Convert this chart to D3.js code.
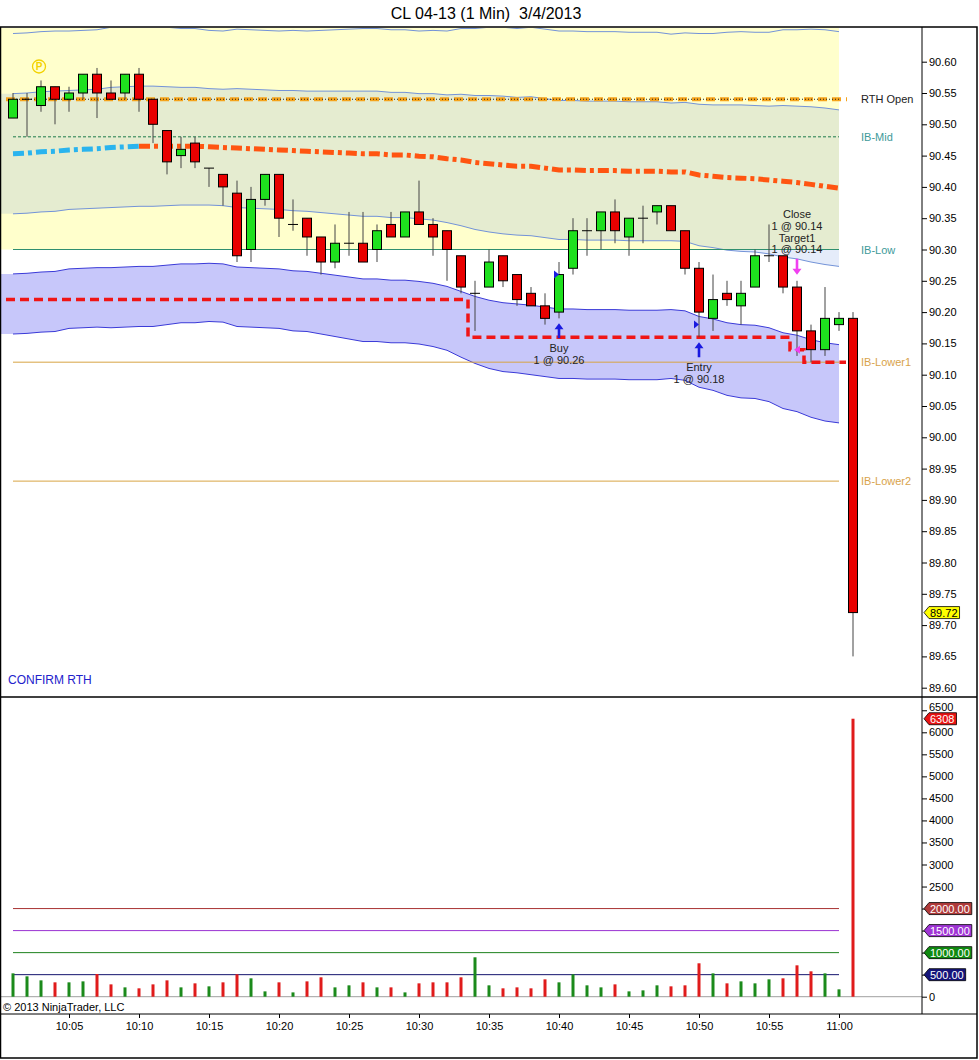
<!DOCTYPE html>
<html lang="en">
<head>
  <meta charset="UTF-8">
  <title>CL 04-13 (1 Min) 3/4/2013</title>
  <script src="https://cdnjs.cloudflare.com/ajax/libs/d3/7.8.5/d3.min.js"></script>
  <style>
    body { margin: 0; background: #fff; }
    svg { display: block; font-family: "Liberation Sans", Arial, sans-serif; }
    .axis text { font-size: 11px; fill: #000; font-family: "Liberation Sans", Arial, sans-serif; }
    .axis line { stroke: #000; }
    .axis path { display: none; }
  </style>
</head>
<body>
<svg id="chart" width="979" height="1060"></svg>
<script>
// ---- data ----
const times = ["10:01","10:02","10:03","10:04","10:05","10:06","10:07","10:08","10:09","10:10",
  "10:11","10:12","10:13","10:14","10:15","10:16","10:17","10:18","10:19","10:20",
  "10:21","10:22","10:23","10:24","10:25","10:26","10:27","10:28","10:29","10:30",
  "10:31","10:32","10:33","10:34","10:35","10:36","10:37","10:38","10:39","10:40",
  "10:41","10:42","10:43","10:44","10:45","10:46","10:47","10:48","10:49","10:50",
  "10:51","10:52","10:53","10:54","10:55","10:56","10:57","10:58","10:59","11:00","11:01"];

const open = [90.51,90.54,90.53,90.56,90.54,90.55,90.58,90.55,90.55,90.58,
  90.54,90.49,90.45,90.47,90.43,90.42,90.39,90.30,90.38,90.42,
  90.34,90.35,90.32,90.28,90.31,90.31,90.30,90.34,90.32,90.36,
  90.34,90.33,90.29,90.23,90.24,90.29,90.26,90.23,90.21,90.20,
  90.27,90.33,90.33,90.36,90.32,90.35,90.36,90.37,90.33,90.27,
  90.19,90.23,90.21,90.24,90.29,90.29,90.24,90.17,90.14,90.18,90.19];
const high = [90.55,90.55,90.57,90.56,90.56,90.58,90.59,90.57,90.58,90.59,
  90.54,90.49,90.48,90.48,90.43,90.42,90.41,90.40,90.42,90.42,
  90.38,90.35,90.32,90.34,90.36,90.36,90.34,90.36,90.36,90.41,
  90.35,90.33,90.29,90.25,90.30,90.29,90.26,90.24,90.23,90.28,
  90.35,90.35,90.36,90.38,90.35,90.37,90.37,90.37,90.33,90.28,
  90.26,90.25,90.25,90.30,90.34,90.29,90.25,90.18,90.24,90.20,90.20];
const low = [90.51,90.48,90.52,90.50,90.52,90.54,90.51,90.54,90.54,90.52,
  90.47,90.42,90.43,90.43,90.40,90.37,90.28,90.28,90.37,90.32,
  90.33,90.29,90.26,90.27,90.29,90.28,90.28,90.32,90.32,90.34,
  90.29,90.25,90.23,90.17,90.24,90.24,90.21,90.21,90.18,90.19,
  90.26,90.29,90.30,90.31,90.29,90.31,90.34,90.33,90.26,90.16,
  90.17,90.21,90.18,90.24,90.28,90.23,90.13,90.12,90.13,90.17,89.65];
const close = [90.54,90.54,90.56,90.54,90.55,90.58,90.55,90.54,90.58,90.54,
  90.50,90.44,90.46,90.44,90.43,90.40,90.29,90.38,90.42,90.35,
  90.34,90.32,90.28,90.31,90.31,90.28,90.33,90.32,90.36,90.34,
  90.32,90.30,90.24,90.23,90.28,90.25,90.22,90.21,90.19,90.26,
  90.33,90.33,90.36,90.33,90.35,90.35,90.37,90.33,90.27,90.20,
  90.22,90.22,90.23,90.29,90.29,90.24,90.17,90.14,90.19,90.19,89.72];
const volume = [530,462,371,326,326,348,515,280,212,190,
  280,371,212,303,235,326,508,417,121,326,
  98,348,440,212,258,326,212,212,98,303,
  326,326,440,894,258,190,212,190,394,326,
  508,258,212,280,121,144,258,235,258,758,
  530,303,348,303,394,417,712,576,530,167,6308];

// moving average (10:01 .. 11:00) and its band width
const maValues = [90.453,90.454,90.456,90.457,90.459,90.460,90.461,90.463,90.464,90.465,
  90.465,90.465,90.465,90.465,90.464,90.463,90.462,90.461,90.460,90.459,
  90.458,90.457,90.456,90.455,90.454,90.453,90.453,90.451,90.451,90.449,
  90.448,90.445,90.443,90.439,90.437,90.435,90.433,90.433,90.430,90.427,
  90.427,90.426,90.426,90.426,90.425,90.425,90.425,90.424,90.424,90.419,
  90.417,90.415,90.414,90.413,90.411,90.409,90.407,90.404,90.401,90.398];
const bandWidth = [0.096,0.096,0.096,0.096,0.095,0.095,0.095,0.096,0.096,0.096,
  0.096,0.095,0.094,0.094,0.093,0.093,0.095,0.095,0.095,0.095,
  0.096,0.096,0.097,0.098,0.099,0.100,0.100,0.100,0.100,0.100,
  0.101,0.102,0.105,0.107,0.109,0.110,0.110,0.111,0.111,0.111,
  0.111,0.111,0.111,0.111,0.111,0.111,0.111,0.110,0.111,0.113,
  0.114,0.116,0.117,0.117,0.118,0.121,0.122,0.124,0.125,0.125];
const bandMultiples = [2, 1, -1, -2, -3];

// trailing stop (10:01 .. 11:00)
const stopLevel = [90.22,90.22,90.22,90.22,90.22,90.22,90.22,90.22,90.22,90.22,
  90.22,90.22,90.22,90.22,90.22,90.22,90.22,90.22,90.22,90.22,
  90.22,90.22,90.22,90.22,90.22,90.22,90.22,90.22,90.22,90.22,
  90.22,90.22,90.22,90.16,90.16,90.16,90.16,90.16,90.16,90.16,
  90.16,90.16,90.16,90.16,90.16,90.16,90.16,90.16,90.16,90.16,
  90.16,90.16,90.16,90.16,90.16,90.16,90.14,90.12,90.12,90.12];

const levelNames = ["RTH Open", "IB-Mid", "IB-Low", "IB-Lower1", "IB-Lower2"];
const levelPrices = [90.54, 90.48, 90.30, 90.12, 89.93];
const ibHigh = 90.66;

const volumeLevels = [2000, 1500, 1000, 500];

const priceTicks = [89.60,89.65,89.70,89.75,89.80,89.85,89.90,89.95,90.00,90.05,
  90.10,90.15,90.20,90.25,90.30,90.35,90.40,90.45,90.50,90.55,90.60];
const volumeTicks = [0,500,1000,1500,2000,2500,3000,3500,4000,4500,5000,5500,6000,6500];
const timeTicks = ["10:05","10:10","10:15","10:20","10:25","10:30","10:35","10:40","10:45","10:50","10:55","11:00"];

const trades = [
  { time: "10:40", price: 90.26, kind: "buy",   lines: ["Buy", "1 @ 90.26"] },
  { time: "10:50", price: 90.18, kind: "buy",   lines: ["Entry", "1 @ 90.18"] },
  { time: "10:57", price: 90.14, kind: "sell",  lines: ["Close", "1 @ 90.14", "Target1", "1 @ 90.14"] }
];

// ---- scales ----
const parseTime = d3.timeParse("%H:%M");
const x = d3.scaleTime().domain([parseTime("10:05"), parseTime("11:00")]).range([69, 839]);
const y = d3.scaleLinear().domain([89.60, 90.60]).range([687.7, 61.7]);
const yv = d3.scaleLinear().domain([0, 6000]).range([996.7, 732.3]);

const svg = d3.select("#chart");
const axisX = 922, panelTop = 27, splitY = 697, timeY = 1014;

const bars = times.map((t, i) => ({
  px: x(parseTime(t)), o: open[i], h: high[i], l: low[i], c: close[i], v: volume[i]
}));
const barAt = t => bars[times.indexOf(t)];

svg.append("rect").attr("width", 979).attr("height", 1060).attr("fill", "#fff");

// title
svg.append("text")
  .attr("x", 486).attr("y", 19)
  .attr("text-anchor", "middle")
  .attr("font-size", 16)
  .style("white-space", "pre")
  .text("CL 04-13 (1 Min)  3/4/2013");

const defs = svg.append("defs");
defs.append("clipPath").attr("id", "clipPrice")
  .append("rect").attr("x", 1).attr("y", panelTop + 1).attr("width", axisX - 1).attr("height", splitY - panelTop - 1);
defs.append("clipPath").attr("id", "clipVol")
  .append("rect").attr("x", 1).attr("y", splitY + 1).attr("width", axisX - 1).attr("height", timeY - splitY - 1);

const gp = svg.append("g").attr("clip-path", "url(#clipPrice)");
const xFirst = bars[0].px, xLast = bars[59].px;

// initial balance zone
gp.append("rect")
  .attr("x", 0).attr("width", xLast)
  .attr("y", y(ibHigh)).attr("height", y(levelPrices[2]) - y(ibHigh))
  .attr("fill", "#ffffcc");

// channel around the moving average
const chan = maValues.map((m, i) => ({ px: bars[i].px, m, s: bandWidth[i] }));
const chanFill = [{ px: 0, m: chan[0].m, s: chan[0].s }].concat(chan);

gp.append("path").datum(chanFill)
  .attr("fill", "rgba(110,150,230,0.18)")
  .attr("d", d3.area().x(d => d.px).y0(d => y(d.m - d.s)).y1(d => y(d.m + d.s)));
gp.append("path").datum(chanFill)
  .attr("fill", "rgba(0,0,230,0.22)")
  .attr("d", d3.area().x(d => d.px).y0(d => y(d.m - 3 * d.s)).y1(d => y(d.m - 2 * d.s)));

bandMultiples.forEach(k => {
  gp.append("path").datum(chan)
    .attr("fill", "none")
    .attr("stroke", k >= -1 ? "#7393d8" : "#3a3ad8")
    .attr("stroke-width", 1)
    .attr("d", d3.line().x(d => d.px).y(d => y(d.m + k * d.s)));
});

// session levels
const levelColors = ["#f5a31b", "#1e7b4b", "#2f8f6f", "#d8a443", "#d8a443"];
const labelColors = ["#222", "#3e9a9a", "#3e9a9a", "#d9a34b", "#d9a34b"];
levelPrices.forEach((p, i) => {
  if (i === 0) return;
  gp.append("line")
    .attr("x1", xFirst).attr("x2", xLast)
    .attr("y1", y(p)).attr("y2", y(p))
    .attr("stroke", levelColors[i]).attr("stroke-width", 1)
    .attr("stroke-dasharray", i === 1 ? "3,2" : null);
});

// moving average, coloured by slope
const maPts = chan.map(d => [d.px, y(d.m)]);
let run = [maPts[0]], runUp = maValues[1] > maValues[0];
const drawRun = (pts, up) => gp.append("path")
  .attr("fill", "none")
  .attr("stroke", up ? "#2ab4ee" : "#ff5511")
  .attr("stroke-width", 5)
  .attr("stroke-dasharray", "11,4,4,4")
  .attr("d", d3.line()(pts));
for (let i = 1; i < maPts.length; i++) {
  const up = maValues[i] > maValues[i - 1];
  if (up !== runUp) { drawRun(run, runUp); run = [maPts[i - 1]]; runUp = up; }
  run.push(maPts[i]);
}
drawRun(run, runUp);

// RTH open line
gp.append("line")
  .attr("x1", xFirst - 7).attr("x2", xLast + 8)
  .attr("y1", y(levelPrices[0])).attr("y2", y(levelPrices[0]))
  .attr("stroke", levelColors[0]).attr("stroke-width", 4)
  .attr("stroke-dasharray", "9,5");
gp.append("line")
  .attr("x1", xFirst).attr("x2", xLast)
  .attr("y1", y(levelPrices[0])).attr("y2", y(levelPrices[0]))
  .attr("stroke", "#222").attr("stroke-width", 1)
  .attr("stroke-dasharray", "1,2");

// trailing stop
const stopPts = [[xFirst - 7, y(stopLevel[0])]]
  .concat(stopLevel.map((s, i) => [bars[i].px, y(s)]))
  .concat([[xLast + 7, y(stopLevel[59])]]);
gp.append("path")
  .attr("fill", "none")
  .attr("stroke", "#f01515").attr("stroke-width", 3.5)
  .attr("stroke-dasharray", "9,5")
  .attr("d", d3.line().curve(d3.curveStep)(stopPts));

// candles
const cg = gp.append("g");
bars.forEach(b => {
  cg.append("line")
    .attr("x1", b.px).attr("x2", b.px)
    .attr("y1", y(b.h)).attr("y2", y(b.l))
    .attr("stroke", "#444").attr("stroke-width", 1);
  const top = y(Math.max(b.o, b.c)), bot = y(Math.min(b.o, b.c));
  if (bot - top < 1) {
    cg.append("line")
      .attr("x1", b.px - 5).attr("x2", b.px + 5)
      .attr("y1", top).attr("y2", top)
      .attr("stroke", "#000").attr("stroke-width", 1);
  } else {
    cg.append("rect")
      .attr("x", b.px - 4.5).attr("width", 9)
      .attr("y", top).attr("height", bot - top)
      .attr("fill", b.c >= b.o ? "#1ee01e" : "#e80000")
      .attr("stroke", "#000").attr("stroke-width", 1);
  }
});

// P marker
const pBar = barAt("10:03");
gp.append("circle")
  .attr("cx", pBar.px - 2).attr("cy", y(pBar.h) - 14).attr("r", 6.5)
  .attr("fill", "none").attr("stroke", "#f3d200").attr("stroke-width", 1.3);
gp.append("text")
  .attr("x", pBar.px - 2).attr("y", y(pBar.h) - 10.5)
  .attr("text-anchor", "middle").attr("font-size", 10).attr("font-weight", "bold")
  .attr("fill", "#f3d200").text("P");

// trade markers
trades.forEach(tr => {
  const b = barAt(tr.time);
  const yp = y(tr.price);
  if (tr.kind === "buy") {
    gp.append("path")
      .attr("d", `M${b.px - 5},${yp - 4}L${b.px},${yp}L${b.px - 5},${yp + 4}Z`)
      .attr("fill", "#1a1ae0");
    const tip = y(b.l) + 5;
    gp.append("path")
      .attr("d", `M${b.px},${tip}L${b.px + 4.5},${tip + 6}L${b.px + 1.3},${tip + 6}L${b.px + 1.3},${tip + 15}` +
                 `L${b.px - 1.3},${tip + 15}L${b.px - 1.3},${tip + 6}L${b.px - 4.5},${tip + 6}Z`)
      .attr("fill", "#1a1ae0");
    tr.lines.forEach((s, j) => {
      gp.append("text")
        .attr("x", b.px).attr("y", tip + 29 + j * 12)
        .attr("text-anchor", "middle").attr("font-size", 11).attr("fill", "#222")
        .text(s);
    });
  } else {
    gp.append("path")
      .attr("d", `M${b.px + 3},${yp - 4}L${b.px - 3},${yp}L${b.px + 3},${yp + 4}Z`)
      .attr("fill", "#f040f0");
    const tip = y(b.h) - 6;
    gp.append("path")
      .attr("d", `M${b.px},${tip}L${b.px + 4.5},${tip - 6}L${b.px + 1.3},${tip - 6}L${b.px + 1.3},${tip - 16}` +
                 `L${b.px - 1.3},${tip - 16}L${b.px - 1.3},${tip - 6}L${b.px - 4.5},${tip - 6}Z`)
      .attr("fill", "#f040f0");
    const n = tr.lines.length;
    tr.lines.forEach((s, j) => {
      gp.append("text")
        .attr("x", b.px).attr("y", tip - 21.5 - (n - 1 - j) * 11.7)
        .attr("text-anchor", "middle").attr("font-size", 11).attr("fill", "#222")
        .text(s);
    });
  }
});

// level labels
levelNames.forEach((name, i) => {
  svg.append("text")
    .attr("x", 861).attr("y", y(levelPrices[i]) + 4)
    .attr("font-size", 11).attr("fill", labelColors[i])
    .text(name);
});

svg.append("text")
  .attr("x", 8).attr("y", 684)
  .attr("font-size", 12).attr("fill", "#2222cc")
  .text("CONFIRM RTH");

// ---- volume panel ----
const gv = svg.append("g").attr("clip-path", "url(#clipVol)");
const volColors = ["#a83232", "#9a32d2", "#1e821e", "#14146e"];
const volTagColors = ["#b03a3a", "#a035d5", "#118a11", "#14147a"];
volumeLevels.forEach((v, i) => {
  gv.append("line")
    .attr("x1", xFirst).attr("x2", xLast)
    .attr("y1", yv(v)).attr("y2", yv(v))
    .attr("stroke", volColors[i]).attr("stroke-width", 1);
});
gv.append("line")
  .attr("x1", 0).attr("x2", axisX)
  .attr("y1", yv(0)).attr("y2", yv(0))
  .attr("stroke", "#a0a0a0");
gv.selectAll("rect.vol").data(bars).enter().append("rect")
  .attr("class", "vol")
  .attr("x", d => d.px - 1.5).attr("width", 3)
  .attr("y", d => yv(d.v)).attr("height", d => yv(0) - yv(d.v))
  .attr("fill", d => d.c >= d.o ? "#1b8a1b" : "#e01b1b");

svg.append("text")
  .attr("x", 3).attr("y", 1011)
  .attr("font-size", 11).attr("fill", "#000")
  .text("\u00a9 2013 NinjaTrader, LLC");

// ---- axes ----
svg.append("g").attr("class", "axis")
  .attr("transform", `translate(${axisX},0)`)
  .call(d3.axisRight(y).tickValues(priceTicks).tickFormat(d3.format(".2f")).tickSize(5).tickPadding(2));
// the level tags sit on top of their own tick labels, so those labels are left out
const volAxis = svg.append("g").attr("class", "axis")
  .attr("transform", `translate(${axisX},0)`)
  .call(d3.axisRight(yv).tickValues(volumeTicks)
    .tickFormat(d => volumeLevels.includes(d) ? "" : d3.format("d")(d))
    .tickSize(5).tickPadding(2));
// top label squeezed against the panel edge, as in the original
volAxis.selectAll(".tick").filter(d => d === 6500).select("text").attr("dy", "0.05em").attr("font-size", 10);
svg.append("g").attr("class", "axis")
  .attr("transform", `translate(0,${timeY})`)
  .call(d3.axisBottom(x).tickValues(timeTicks.map(parseTime)).tickFormat(d3.timeFormat("%H:%M")).tickSize(4).tickPadding(4));

// value tags on the right axis
function tag(yPos, label, fill, textFill) {
  const g = svg.append("g");
  const t = g.append("text")
    .attr("x", 930).attr("y", yPos + 4)
    .attr("font-size", 11).attr("fill", textFill)
    .text(label);
  const w = t.node().getComputedTextLength() + 3;
  g.insert("path", "text")
    .attr("d", `M924,${yPos}L929,${yPos - 6}L${929 + w},${yPos - 6}L${929 + w},${yPos + 6}L929,${yPos + 6}Z`)
    .attr("fill", fill).attr("stroke", "#000").attr("stroke-width", 0.8);
}
const lastBar = bars[bars.length - 1];
tag(y(lastBar.c), d3.format(".2f")(lastBar.c), "#ffff00", "#000");
tag(yv(lastBar.v), String(lastBar.v), "#e81414", "#fff");
volumeLevels.forEach((v, i) => tag(yv(v), d3.format(".2f")(v), volTagColors[i], "#fff"));

// frame
const frame = svg.append("g").attr("stroke", "#000").attr("fill", "none");
frame.append("rect").attr("x", 0.5).attr("y", panelTop).attr("width", 976.5).attr("height", 1058 - panelTop).attr("stroke-width", 1.5);
frame.append("line").attr("x1", 0).attr("x2", 977).attr("y1", splitY).attr("y2", splitY).attr("stroke-width", 1.5);
frame.append("line").attr("x1", 0).attr("x2", 977).attr("y1", timeY).attr("y2", timeY);
frame.append("line").attr("x1", axisX).attr("x2", axisX).attr("y1", panelTop).attr("y2", timeY);
</script>
</body>
</html>
